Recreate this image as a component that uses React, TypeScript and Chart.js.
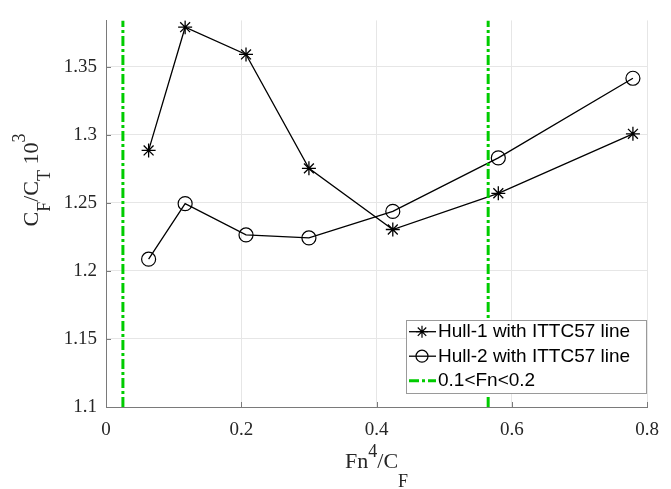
import React, { useEffect, useRef } from "react";
import { Chart, registerables } from "chart.js";

Chart.register(...registerables);

// ---- data ----
const X_VALUES = [0.063, 0.117, 0.207, 0.3, 0.424, 0.58, 0.779];
const HULL1_VALUES = [1.2885, 1.379, 1.359, 1.2753, 1.2304, 1.257, 1.3007];
const HULL2_VALUES = [1.2086, 1.2494, 1.2264, 1.2242, 1.2437, 1.283, 1.3415];
const FN_BOUNDS = [0.025, 0.565];
const SERIES_LABELS = ["Hull-1 with ITTC57 line", "Hull-2 with ITTC57 line", "0.1<Fn<0.2"];
const X_MIN = 0;
const X_MAX = 0.8;
const X_STEP = 0.2;
const Y_MIN = 1.1;
const Y_MAX = 1.384;
const Y_STEP = 0.05;

const AXIS_COLOR = "#7a7a7a";
const GRID_COLOR = "#e6e6e6";
const TEXT_COLOR = "#262626";
const GREEN = "#00cc00";
const SERIF = '"Liberation Serif", "Times New Roman", serif';
const SANS = '"Liberation Sans", Arial, sans-serif';

type Seg = { t: string; size: number; dy: number };

function segWidth(ctx: CanvasRenderingContext2D, segs: Seg[]) {
  let w = 0;
  for (const s of segs) {
    ctx.font = `${s.size}px ${SERIF}`;
    w += ctx.measureText(s.t).width;
  }
  return w;
}

function drawRich(ctx: CanvasRenderingContext2D, segs: Seg[], x: number, y: number) {
  let cx = x;
  ctx.textBaseline = "alphabetic";
  ctx.textAlign = "left";
  for (const s of segs) {
    ctx.font = `${s.size}px ${SERIF}`;
    ctx.fillText(s.t, cx, y + s.dy);
    cx += ctx.measureText(s.t).width;
  }
}

const fmt = (v: number) => String(Math.round(v * 1000) / 1000);

const decorPlugin = {
  id: "decor",
  afterDraw(chart: any) {
    const ctx: CanvasRenderingContext2D = chart.ctx;
    const { left, right, top, bottom } = chart.chartArea;
    const xs = chart.scales.x;
    const ys = chart.scales.y;
    ctx.save();
    // inward tick marks
    ctx.strokeStyle = AXIS_COLOR;
    ctx.lineWidth = 1;
    ctx.setLineDash([]);
    for (const t of xs.ticks) {
      const px = Math.round(xs.getPixelForValue(t.value)) + 0.5;
      ctx.beginPath();
      ctx.moveTo(px, bottom);
      ctx.lineTo(px, bottom - 5);
      ctx.stroke();
    }
    for (const t of ys.ticks) {
      const py = Math.round(ys.getPixelForValue(t.value)) + 0.5;
      ctx.beginPath();
      ctx.moveTo(left, py);
      ctx.lineTo(left + 5, py);
      ctx.stroke();
    }

    // axis titles
    ctx.fillStyle = TEXT_COLOR;
    const xSegs: Seg[] = [
      { t: "Fn", size: 22, dy: 0 },
      { t: "4", size: 18, dy: -11.5 },
      { t: "/C", size: 22, dy: 0 },
      { t: "F", size: 18, dy: 19 },
    ];
    const xw = segWidth(ctx, xSegs);
    drawRich(ctx, xSegs, (left + right) / 2 - xw / 2, 468);

    const ySegs: Seg[] = [
      { t: "C", size: 22, dy: 0 },
      { t: "F", size: 18, dy: 12 },
      { t: "/C", size: 22, dy: 0 },
      { t: "T", size: 18, dy: 12 },
      { t: " 10", size: 22, dy: 0 },
      { t: "3", size: 18, dy: -13 },
    ];
    const yw = segWidth(ctx, ySegs);
    ctx.save();
    ctx.translate(37.5, 180 + yw / 2);
    ctx.rotate(-Math.PI / 2);
    drawRich(ctx, ySegs, 0, 0);
    ctx.restore();

    // legend
    const lx = 406, ly = 320, lw = 240, lh = 73;
    ctx.fillStyle = "#ffffff";
    ctx.fillRect(lx, ly, lw, lh);
    ctx.strokeStyle = "#9a9a9a";
    ctx.lineWidth = 1;
    ctx.strokeRect(lx + 0.5, ly + 0.5, lw, lh);
    const datasets = chart.data.datasets;
    datasets.forEach((ds: any, i: number) => {
      const cy = 331.7 + i * 24.5;
      ctx.strokeStyle = ds.borderColor;
      ctx.lineWidth = ds.borderWidth;
      ctx.setLineDash(ds.borderDash || []);
      ctx.beginPath();
      ctx.moveTo(409, cy);
      ctx.lineTo(436, cy);
      ctx.stroke();
      ctx.setLineDash([]);
      const mx = 422;
      const r = 6;
      ctx.lineWidth = 1.2;
      if (ds.pointStyle === "star") {
        const d = r * Math.SQRT1_2;
        ctx.beginPath();
        ctx.moveTo(mx - r, cy); ctx.lineTo(mx + r, cy);
        ctx.moveTo(mx, cy - r); ctx.lineTo(mx, cy + r);
        ctx.moveTo(mx - d, cy - d); ctx.lineTo(mx + d, cy + d);
        ctx.moveTo(mx - d, cy + d); ctx.lineTo(mx + d, cy - d);
        ctx.stroke();
      } else if (ds.pointStyle === "circle" && ds.pointRadius > 0) {
        ctx.beginPath();
        ctx.arc(mx, cy, r, 0, Math.PI * 2);
        ctx.stroke();
      }
      ctx.fillStyle = "#000000";
      ctx.font = `19px ${SANS}`;
      ctx.textBaseline = "middle";
      ctx.textAlign = "left";
      ctx.fillText(ds.label, 438, cy + 0.5);
    });
    ctx.restore();
  },
};

export default function App() {
  const ref = useRef<HTMLCanvasElement | null>(null);
  useEffect(() => {
    document.body.style.margin = "0";
    const canvas = ref.current;
    if (!canvas) return;
    const hull1 = X_VALUES.map((x, i) => ({ x, y: HULL1_VALUES[i] }));
    const hull2 = X_VALUES.map((x, i) => ({ x, y: HULL2_VALUES[i] }));
    const bounds = [
      { x: FN_BOUNDS[0], y: Y_MIN },
      { x: FN_BOUNDS[0], y: Y_MAX },
      { x: (FN_BOUNDS[0] + FN_BOUNDS[1]) / 2, y: null },
      { x: FN_BOUNDS[1], y: Y_MIN },
      { x: FN_BOUNDS[1], y: Y_MAX },
    ];
    const chart = new Chart(canvas, {
      type: "line",
      data: {
        datasets: [
          {
            label: SERIES_LABELS[0],
            data: hull1,
            borderColor: "#000000",
            borderWidth: 1.3,
            pointStyle: "star",
            pointRadius: 7,
            pointBorderColor: "#000000",
            pointBorderWidth: 1.3,
            pointBackgroundColor: "rgba(0,0,0,0)",
            fill: false,
            tension: 0,
            order: 1,
          },
          {
            label: SERIES_LABELS[1],
            data: hull2,
            borderColor: "#000000",
            borderWidth: 1.3,
            pointStyle: "circle",
            pointRadius: 7,
            pointBorderColor: "#000000",
            pointBorderWidth: 1.2,
            pointBackgroundColor: "rgba(0,0,0,0)",
            fill: false,
            tension: 0,
            order: 1,
          },
          {
            label: SERIES_LABELS[2],
            data: bounds as any,
            borderColor: GREEN,
            borderWidth: 3,
            borderDash: [10, 3, 3, 3],
            pointRadius: 0,
            pointStyle: "line",
            fill: false,
            spanGaps: false,
            tension: 0,
            order: 0,
          },
        ],
      },
      options: {
        responsive: false,
        devicePixelRatio: 1,
        animation: false,
        events: [],
        layout: { padding: { left: 0, top: 12, right: 13, bottom: 0 } },
        plugins: {
          legend: { display: false },
          tooltip: { enabled: false },
          title: { display: false },
        },
        scales: {
          x: {
            type: "linear",
            min: X_MIN,
            max: X_MAX,
            ticks: {
              stepSize: X_STEP,
              padding: 12,
              color: TEXT_COLOR,
              font: { family: SERIF, size: 19 },
              maxRotation: 0,
              callback: (v: any) => fmt(Number(v)),
            },
            grid: { color: GRID_COLOR, lineWidth: 1, drawTicks: false },
            border: { display: true, color: AXIS_COLOR, width: 1 },
            afterFit: (s: any) => {
              s.height = 82;
            },
          },
          y: {
            type: "linear",
            min: Y_MIN,
            max: Y_MAX,
            ticks: {
              stepSize: Y_STEP,
              padding: 9,
              color: TEXT_COLOR,
              font: { family: SERIF, size: 19 },
              callback: (v: any) => fmt(Number(v)),
            },
            afterBuildTicks: (s: any) => {
              s.ticks = s.ticks.filter((t: any) => {
                const k = (t.value - Y_MIN) / Y_STEP;
                return Math.abs(k - Math.round(k)) < 1e-6;
              });
            },
            grid: { color: GRID_COLOR, lineWidth: 1, drawTicks: false },
            border: { display: true, color: AXIS_COLOR, width: 1 },
            afterFit: (s: any) => {
              s.width = 106;
            },
          },
        },
      },
      plugins: [decorPlugin],
    });
    return () => chart.destroy();
  }, []);
  return (
    <div style={{ width: 671, height: 489 }}>
      <canvas ref={ref} width={671} height={489} style={{ display: "block" }} />
    </div>
  );
}
